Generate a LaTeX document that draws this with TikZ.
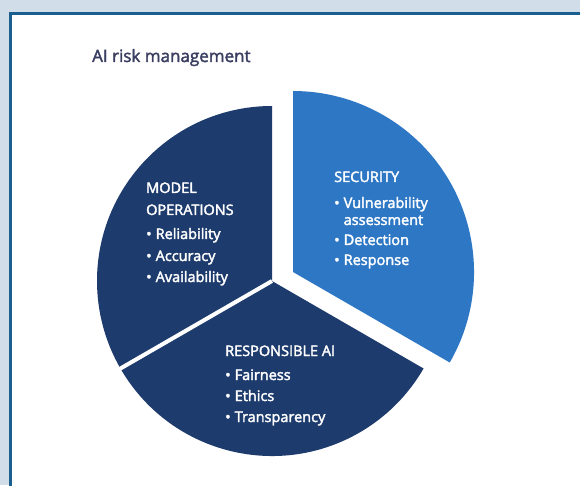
\documentclass[tikz,border=0pt]{standalone}
\usepackage{fontspec}
\setmainfont{Open Sans}
\newcommand{\heavyon}{\special{pdf:literal direct 2 Tr 0.35 w}}
\newcommand{\heavyoff}{\special{pdf:literal direct 0 Tr}}
\definecolor{bgcol}{HTML}{D2DDEA}
\definecolor{bordercol}{HTML}{1B5E90}
\definecolor{navy}{HTML}{1D3B6C}
\definecolor{secblue}{HTML}{2D77C5}
\definecolor{titlecol}{HTML}{393D60}
\newcommand{\blt}{\makebox[9.5pt][l]{\textbullet}}
\tikzset{
  lbl/.style={inner sep=0pt, text=white, anchor=base west, font=\fontsize{14.5}{20}\selectfont},
  wedgedark/.style={fill=navy},
  wedgesec/.style={fill=secblue},
}
\begin{document}
\begin{tikzpicture}[x=1pt,y=1pt]
\useasboundingbox (0,0) rectangle (580,485);
\clip (0,0) rectangle (580,485);
\fill[bgcol] (0,0) rectangle (580,485);
\fill[white] (10.65,-10) rectangle (600,471.15);
\draw[bordercol, line width=2.7pt] (10.65,-10) -- (10.65,471.15) -- (600,471.15);

\node[inner sep=0pt, anchor=base west, text=titlecol, font=\fontsize{17}{20}\selectfont] (title) at (92,423) {\heavyon AI risk management\heavyoff};

% pie
\coordinate (C) at (272,204);
\coordinate (S) at (293,213);
\fill[wedgedark] (C) -- ++(90:175) arc[start angle=90, end angle=210, radius=175] -- cycle;
\fill[wedgedark] (C) -- ++(210:175) arc[start angle=210, end angle=330, radius=175] -- cycle;
\draw[white, line width=4pt] (C) -- ++(210:180);
\fill[wedgesec] (S) -- ++(-30:181) arc[start angle=-30, end angle=90, radius=181] -- cycle;

\node[lbl] (modelops) at (146,292) {\heavyon\begin{tabular}[t]{@{}l@{}l@{}}
\multicolumn{2}{@{}l@{}}{MODEL}\\[2pt]
\multicolumn{2}{@{}l@{}}{OPERATIONS}\\[4pt]
\blt & Reliability\\[2pt]
\blt & Accuracy\\[1pt]
\blt & Availability
\end{tabular}\heavyoff};

\node[lbl] (security) at (334,303) {\heavyon\begin{tabular}[t]{@{}l@{}l@{}}
\multicolumn{2}{@{}l@{}}{SECURITY}\\[6pt]
\blt & Vulnerability\\[-3pt]
 & assessment\\[0pt]
\blt & Detection\\
\blt & Response
\end{tabular}\heavyoff};

\node[lbl] (respai) at (225,129) {\heavyon\begin{tabular}[t]{@{}l@{}l@{}}
\multicolumn{2}{@{}l@{}}{RESPONSIBLE AI}\\[4pt]
\blt & Fairness\\[1pt]
\blt & Ethics\\[1pt]
\blt & Transparency
\end{tabular}\heavyoff};
\end{tikzpicture}
\end{document}
